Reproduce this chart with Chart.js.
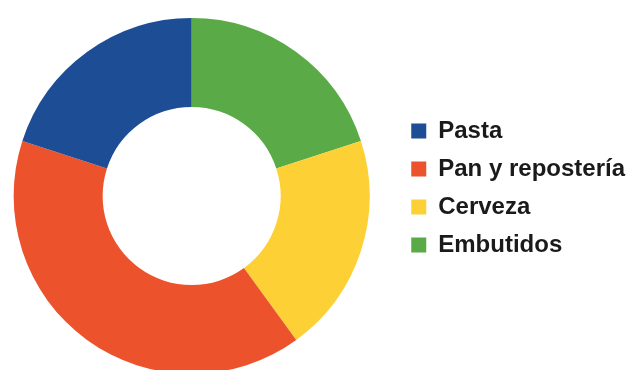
<!DOCTYPE html>
<html>
<head>
<meta charset="utf-8">
<script src="https://cdn.jsdelivr.net/npm/chart.js@4/dist/chart.umd.min.js"></script>
<style>
  html, body { margin: 0; padding: 0; background: #fff; }
  #wrap { width: 635px; height: 370px; overflow: hidden; }
  #box { width: 635px; height: 390px; }
</style>
</head>
<body>
<div id="wrap"><div id="box"><canvas id="chart"></canvas></div></div>
<script>
// categorías en el orden de la leyenda
const categories = ["Pasta", "Pan y repostería", "Cerveza", "Embutidos"];
const values = [20, 40, 20, 20];
const colors = ["#1d4d94", "#ec532c", "#fdd035", "#5aaa48"];

// el gráfico original gira en sentido antihorario, Chart.js en sentido horario
const drawLabels = categories.slice().reverse();
const drawValues = values.slice().reverse();
const drawColors = colors.slice().reverse();

// ajuste fino: sube la leyenda y desplaza el anillo hacia la izquierda
const layoutTweak = {
  id: "layoutTweak",
  afterLayout(chart) {
    chart.legend.top -= 8;
    chart.legend.bottom -= 8;
    chart.chartArea.left -= 14;
    chart.chartArea.width += 14;
  },
};

new Chart(document.getElementById("chart"), {
  type: "doughnut",
  data: {
    labels: drawLabels,
    datasets: [
      {
        data: drawValues,
        backgroundColor: drawColors,
        borderWidth: 0,
        hoverOffset: 0,
      },
    ],
  },
  plugins: [layoutTweak],
  options: {
    responsive: true,
    maintainAspectRatio: false,
    animation: false,
    cutout: "50%",
    layout: {
      padding: { left: 0, right: 0, top: 18, bottom: 16 },
    },
    plugins: {
      tooltip: { enabled: false },
      legend: {
        position: "right",
        reverse: true,
        labels: {
          boxWidth: 15,
          boxHeight: 15,
          padding: 14,
          color: "#1a1a1a",
          font: { family: "'Liberation Sans', Arial, sans-serif", size: 24, weight: "bold" },
        },
      },
    },
  },
});
</script>
</body>
</html>
